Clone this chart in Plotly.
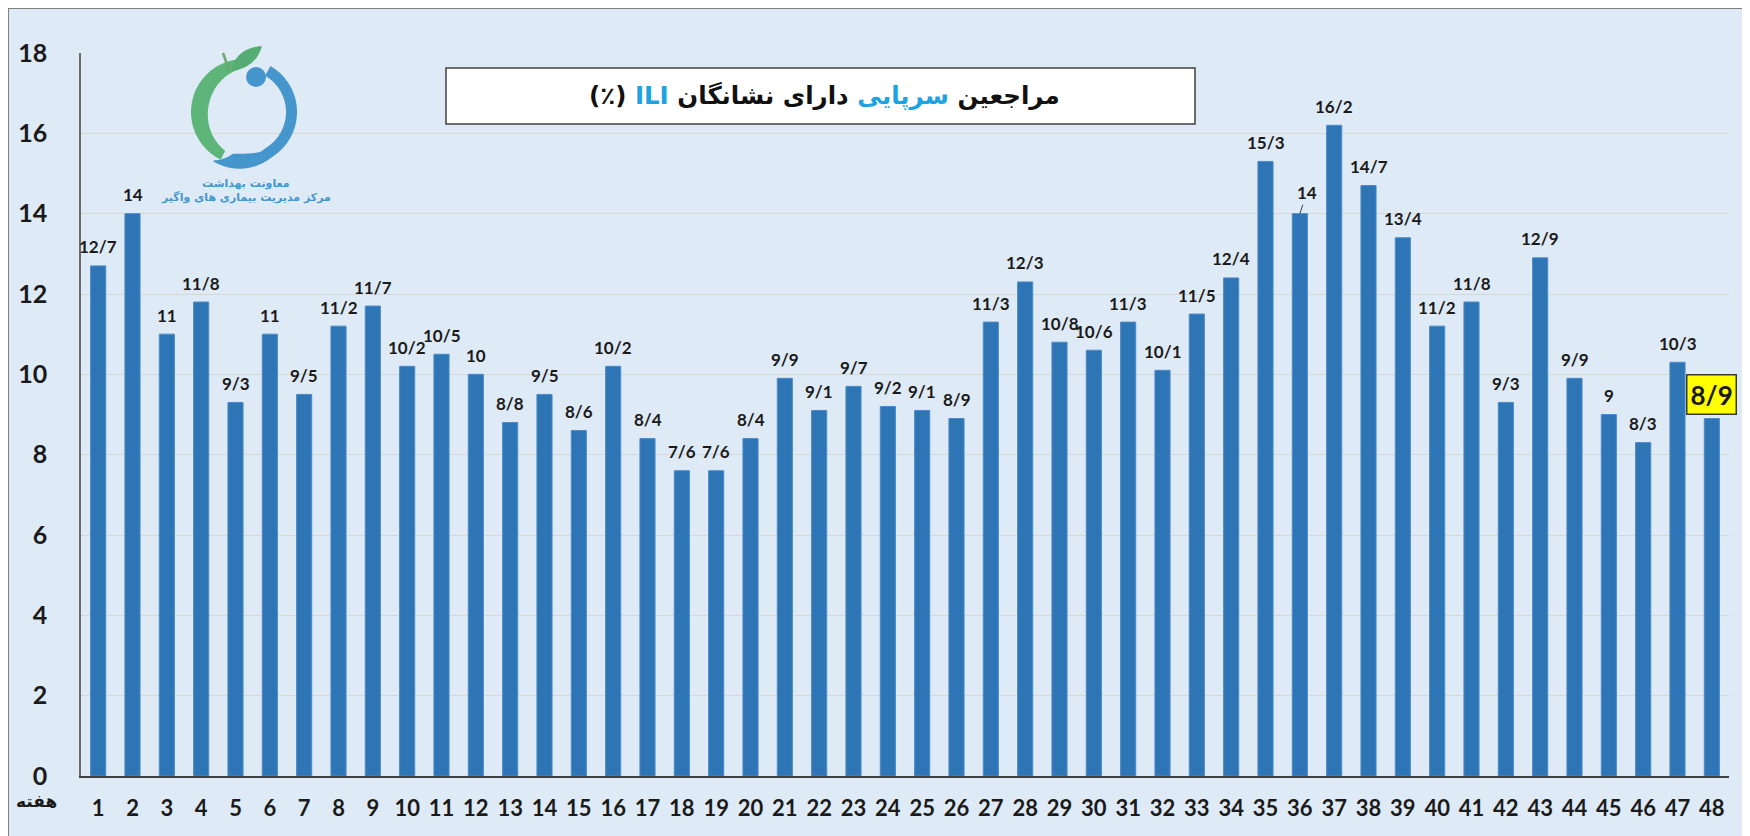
import numpy as np
import plotly.graph_objects as go

# ---------------- data ----------------
weeks = list(range(1, 49))
week_labels = [str(w) for w in weeks]
ili_percent = [12.7, 14, 11, 11.8, 9.3, 11, 9.5, 11.2, 11.7, 10.2,
               10.5, 10, 8.8, 9.5, 8.6, 10.2, 8.4, 7.6, 7.6, 8.4,
               9.9, 9.1, 9.7, 9.2, 9.1, 8.9, 11.3, 12.3, 10.8, 10.6,
               11.3, 10.1, 11.5, 12.4, 15.3, 14, 16.2, 14.7, 13.4, 11.2,
               11.8, 9.3, 12.9, 9.9, 9, 8.3, 10.3, 8.9]
y_ticks = [0, 2, 4, 6, 8, 10, 12, 14, 16, 18]
x_axis_title = "هفته"
logo_line1 = "معاونت بهداشت"
logo_line2 = "مرکز مدیریت بیماری های واگیر"

# ---------------- geometry (page pixels, body margin compensated) ----------------
OFF = 8                      # default page body margin
W, H = 1750 - OFF, 836 - OFF
L, R, T, B = 81 - OFF, 1729 - OFF, 53 - OFF, 776 - OFF
PW, PH = R - L, B - T


def px(x, y):
    """page pixel -> paper coordinates"""
    return (x - OFF - L) / PW, (B - (y - OFF)) / PH


def fmt(v):
    return f"{v:g}".replace(".", "/")


BAR = "#2e75b6"
BG = "#deeaf6"
TXT = "#1a1a1a"
CYAN = "#1ea3e2"
LOGO_BLUE = "#4596cc"
LOGO_GREEN = "#5db57a"

fig = go.Figure()
fig.add_trace(go.Bar(
    x=weeks, y=ili_percent,
    marker=dict(color=BAR, line=dict(color="#4b8acb", width=1)),
    hoverinfo="x+y",
))

shapes = []
# outer frame
x0, y0 = px(OFF, OFF)
x1, y1 = px(1770, 860)
shapes.append(dict(type="rect", xref="paper", yref="paper", x0=x0, y0=y0, x1=x1, y1=y1,
                   fillcolor=BG, line=dict(color="#7f7f7f", width=2), layer="below"))
# title box
x0, y0 = px(446, 68)
x1, y1 = px(1195, 124)
shapes.append(dict(type="rect", xref="paper", yref="paper", x0=x0, y0=y0, x1=x1, y1=y1,
                   fillcolor="white", line=dict(color="#404040", width=1.5), layer="above"))


def poly_path(points):
    pts = [px(a, b) for a, b in points]
    return "M " + " L ".join(f"{a:.5f},{b:.5f}" for a, b in pts) + " Z"


# logo: ring pieces
cx, cy = 244, 112
th = np.linspace(np.radians(96), np.radians(244), 60)
t = 10 + 7 * np.sin(np.pi * (th - th[0]) / (th[-1] - th[0]))
outer = [(cx + 53 * np.cos(a), cy - 53 * np.sin(a)) for a in th]
inner = [(cx + (53 - tt) * np.cos(a), cy - (53 - tt) * np.sin(a)) for a, tt in zip(th, t)]
shapes.append(dict(type="path", xref="paper", yref="paper", path=poly_path(outer + inner[::-1]),
                   fillcolor=LOGO_GREEN, line=dict(width=0), layer="above"))

th = np.linspace(np.radians(60), np.radians(-122), 80)
frac = (th - th[0]) / (th[-1] - th[0])
t = np.where(frac < 0.7, 11, 11 + 4 * np.sin(np.pi * np.clip((frac - 0.7) / 0.3, 0, 1)))
t = np.where(frac > 0.9, t * (1 - (frac - 0.9) / 0.1) + 1, t)
ro = np.where(frac < 0.65, 53, 53 + 5 * np.sin(np.pi * 0.5 * (frac - 0.65) / 0.35))
outer = [(cx + r * np.cos(a), cy - r * np.sin(a)) for a, r in zip(th, ro)]
inner = [(cx + (r - tt) * np.cos(a), cy - (r - tt) * np.sin(a)) for a, r, tt in zip(th, ro, t)]
shapes.append(dict(type="path", xref="paper", yref="paper", path=poly_path(outer + inner[::-1]),
                   fillcolor=LOGO_BLUE, line=dict(width=0), layer="above"))
# small circle
x0, y0 = px(246, 67)
x1, y1 = px(266, 87)
shapes.append(dict(type="circle", xref="paper", yref="paper", x0=x0, y0=y1, x1=x1, y1=y0,
                   fillcolor=LOGO_BLUE, line=dict(width=0), layer="above"))
# leaf
b0 = px(231, 71); tp = px(262, 46); c1 = px(256, 68); c2 = px(236, 48)
shapes.append(dict(type="path", xref="paper", yref="paper",
                   path=f"M {b0[0]:.5f},{b0[1]:.5f} Q {c1[0]:.5f},{c1[1]:.5f} {tp[0]:.5f},{tp[1]:.5f} "
                        f"Q {c2[0]:.5f},{c2[1]:.5f} {b0[0]:.5f},{b0[1]:.5f} Z",
                   fillcolor="#56ad74", line=dict(width=0), layer="above"))
s0 = px(223, 53); s1 = px(229, 70)
shapes.append(dict(type="line", xref="paper", yref="paper", x0=s0[0], y0=s0[1], x1=s1[0], y1=s1[1],
                   line=dict(color="#6aa86a", width=2.5), layer="above"))

annotations = []
label_font = dict(family="Lato", size=17, color=TXT, weight="bold")
for i, (w, v) in enumerate(zip(weeks, ili_percent)):
    if i == len(weeks) - 1:
        annotations.append(dict(x=w, y=v, xref="x", yref="y", text=fmt(v), showarrow=False,
                                yanchor="middle", yshift=24,
                                font=dict(family="Lato", size=26, color=TXT, weight="bold"),
                                bgcolor="#ffff00", bordercolor="#3a3a3a", borderwidth=1.5, borderpad=3))
    elif w == 36:
        annotations.append(dict(x=w, y=v, xref="x", yref="y", text=fmt(v), showarrow=True,
                                arrowhead=0, arrowwidth=1, arrowcolor="#404040",
                                ax=7, ay=-21, font=label_font))
    else:
        annotations.append(dict(x=w, y=v, xref="x", yref="y", text=fmt(v), showarrow=False,
                                yanchor="middle", yshift=19, font=label_font))

# title
tx, ty = px(824, 95)
annotations.append(dict(
    x=tx, y=ty, xref="paper", yref="paper", showarrow=False,
    text=f"(٪) <span style='color:{CYAN}'>ILI</span> مراجعین "
         f"<span style='color:{CYAN}'>سرپایی</span> دارای نشانگان",
    font=dict(family="DejaVu Sans", size=24.5, color="#111111", weight="bold"),
    xanchor="center", yanchor="middle"))

# logo captions
for text, yy in [(logo_line1, 183), (logo_line2, 198)]:
    lx, ly = px(246, yy)
    annotations.append(dict(x=lx, y=ly, xref="paper", yref="paper", showarrow=False, text=text,
                            font=dict(family="DejaVu Sans", size=11, color=LOGO_BLUE, weight="bold"),
                            xanchor="center", yanchor="middle"))

# week label
hx, hy = px(36, 801)
annotations.append(dict(x=hx, y=hy, xref="paper", yref="paper", showarrow=False, text=x_axis_title,
                        font=dict(family="DejaVu Sans", size=17, color=TXT, weight="bold"),
                        xanchor="center", yanchor="middle"))

fig.update_layout(
    width=W, height=H,
    margin=dict(l=L, r=W - R, t=T, b=H - B, pad=0),
    paper_bgcolor="#ffffff",
    plot_bgcolor="rgba(0,0,0,0)",
    bargap=0.56,
    showlegend=False,
    shapes=shapes,
    annotations=annotations,
    xaxis=dict(range=[0.5, 48.5], autorange=False, tickmode="array",
               tickvals=weeks, ticktext=week_labels,
               showgrid=False, showline=True, linecolor="#404040", linewidth=1.5,
               ticks="", ticklabelstandoff=12, automargin=False,
               tickfont=dict(family="Lato", size=22, color=TXT, weight="bold"),
               zeroline=False, fixedrange=True),
    yaxis=dict(range=[0, 18], autorange=False, tickmode="array", tickvals=y_ticks,
               ticktext=[str(v) for v in y_ticks],
               showgrid=True, gridcolor="#d8d8d3", gridwidth=1.2,
               showline=True, linecolor="#6b6b6b", linewidth=1.5,
               ticks="", ticklabelstandoff=27, automargin=False,
               tickfont=dict(family="Lato", size=25, color=TXT, weight="bold"),
               zeroline=False, fixedrange=True),
)

fig.write_html("out.html")
